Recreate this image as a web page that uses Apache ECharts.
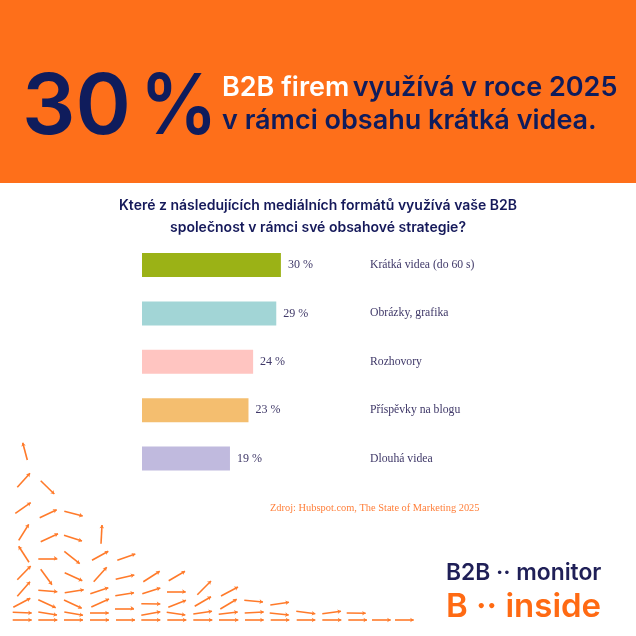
<!DOCTYPE html>
<html>
<head>
<meta charset="utf-8">
<style>
html, body { margin: 0; padding: 0; background: #fff; }
#main { width: 636px; height: 636px; }
</style>
<script src="https://cdn.jsdelivr.net/npm/echarts@6/dist/echarts.min.js"></script>
</head>
<body>
<div id="main"></div>
<script>
var categories = ['Krátká videa (do 60 s)', 'Obrázky, grafika', 'Rozhovory', 'Příspěvky na blogu', 'Dlouhá videa'];
var values = [30, 29, 24, 23, 19];
var barColors = ['#9bb216', '#a2d5d6', '#ffc5c1', '#f4be6f', '#c0bade'];
var question = 'Které z následujících mediálních formátů využívá vaše B2B\nspolečnost v rámci své obsahové strategie?';
var source = 'Zdroj: Hubspot.com, The State of Marketing 2025';

// decorative arrows: [x0, y0, x1, y1]
var arrows = [
    [27.3, 460, 22.7, 442.7], [17.3, 487.3, 30, 473.3], [40.7, 480.7, 54.3, 494], [15.3, 513.3, 30.7, 502.7],
    [39.7, 517.7, 56.7, 509.7], [64.3, 511.3, 82.7, 516], [18.7, 540.3, 28.7, 524.3], [40.7, 541.7, 58, 533.7],
    [64, 535.3, 82, 541], [101, 543.7, 102, 525], [29, 562.3, 18.7, 546.3], [38.3, 558.3, 57.3, 558.3],
    [64.3, 551.3, 79.7, 563.7], [92, 560.3, 108.3, 551.3], [117.3, 560.3, 135.3, 554], [17.3, 579.7, 30.7, 566],
    [40.7, 569.3, 52, 584.7], [64.7, 572.7, 82.3, 580.7], [93.7, 581.7, 106.7, 567.3], [115.7, 579.3, 134.3, 575],
    [143.3, 581.7, 159.7, 571.3], [168.7, 580.7, 185, 571.3], [17.3, 596.3, 30, 581.7], [38.3, 590.3, 57.3, 591.7],
    [64.7, 592.7, 83.7, 589.7], [90.3, 593.7, 108.3, 587.7], [115.3, 595.7, 134, 592.7], [142.3, 593.7, 160.3, 588],
    [167, 591.7, 185.7, 591.7], [197.3, 594.7, 211, 581], [13.3, 607.3, 30.3, 598.3], [38.3, 599.7, 55.7, 607.7],
    [64, 600, 81.7, 608.3], [91.3, 607, 109, 599], [115, 608.7, 134, 608.3], [141.3, 603.7, 160.3, 604],
    [168.3, 607.3, 186, 600.3], [194.7, 606.3, 211, 596.7], [12.7, 612.3, 31.7, 613], [38.3, 612, 57, 615],
    [64.3, 612, 83, 615.3], [90, 613, 108.7, 613], [141.3, 615.3, 160.3, 611.7], [166.7, 612.3, 185.3, 615],
    [193.3, 614, 212, 611.3], [12.7, 620, 31.7, 620], [38.3, 620, 57.3, 620], [64, 620, 83, 620],
    [90, 620, 109, 620], [116, 620, 135, 620], [141.3, 620, 160.3, 620], [167.3, 620, 186.3, 620],
    [193.3, 620, 212.3, 620], [221, 596, 238, 587], [220.3, 609, 236.7, 599.3], [218.7, 614.3, 237.7, 612],
    [219, 620, 238.3, 620], [244.3, 600.3, 263, 602], [244.7, 613, 263.7, 612], [245, 620, 263.7, 620],
    [270.3, 605, 289, 602.3], [269.7, 613, 288.7, 615], [270.7, 620, 289.3, 620], [296.3, 611.3, 315.3, 613.7],
    [296.7, 620, 315.3, 620], [322.3, 613.7, 341, 611.3], [322.3, 620, 341.3, 620], [346.7, 613, 365.7, 613.3],
    [348.3, 620, 367, 620], [372, 620, 390.7, 620], [395, 620, 413.7, 620]
];

var myChart = echarts.init(document.getElementById('main'));

var option = {
    animation: false,
    backgroundColor: '#fff',
    grid: [
        { left: 142, top: 240.8, width: 463, height: 242 },
        { left: 0, top: 0, width: 636, height: 636 }
    ],
    xAxis: [
        { gridIndex: 0, type: 'value', min: 0, max: 100, show: false },
        { gridIndex: 1, type: 'value', min: 0, max: 636, show: false }
    ],
    yAxis: [
        {
            gridIndex: 0,
            type: 'category',
            inverse: true,
            data: categories,
            position: 'left',
            offset: -228,
            axisLine: { show: false },
            axisTick: { show: false },
            axisLabel: {
                inside: true,
                margin: 0,
                fontFamily: 'Liberation Serif',
                fontSize: 11.7,
                color: '#3f3868'
            }
        },
        { gridIndex: 1, type: 'value', min: 0, max: 636, inverse: true, show: false }
    ],
    series: [
        {
            type: 'bar',
            xAxisIndex: 0,
            yAxisIndex: 0,
            barWidth: 24,
            data: values.map(function (v, i) {
                return { value: v, itemStyle: { color: barColors[i] } };
            }),
            label: {
                show: true,
                position: 'right',
                distance: 7,
                formatter: '{c} %',
                fontFamily: 'Liberation Serif',
                fontSize: 12,
                color: '#3f3868'
            }
        },
        {
            type: 'lines',
            coordinateSystem: 'cartesian2d',
            xAxisIndex: 1,
            yAxisIndex: 1,
            symbol: ['none', 'arrow'],
            symbolSize: 3.5,
            lineStyle: { color: '#ff7a2a', width: 1.6, opacity: 1, curveness: 0 },
            data: arrows.map(function (a) {
                return { coords: [[a[0], a[1]], [a[2], a[3]]] };
            })
        }
    ],
    graphic: [
        { type: 'rect', z: -1, shape: { x: 0, y: 0, width: 636, height: 183 }, style: { fill: '#fe6f1a' } },
        { type: 'text', x: 22, y: 109, style: { text: '30', fontFamily: 'Inter', fontWeight: 600, fontSize: 84, fill: '#0f1c5c', verticalAlign: 'middle' } },
        { type: 'text', x: 140, y: 109, scaleX: 0.92, style: { text: '%', fontFamily: 'Inter', fontWeight: 600, fontSize: 84, fill: '#0f1c5c', verticalAlign: 'middle' } },
        {
            type: 'text', x: 222, y: 88,
            style: {
                text: '{w|B2B firem} {n|využívá v roce 2025}',
                verticalAlign: 'middle',
                rich: {
                    w: { fontFamily: 'Inter', fontWeight: 600, fontSize: 27, fill: '#fff', color: '#fff' },
                    n: { fontFamily: 'Inter', fontWeight: 600, fontSize: 27, fill: '#0f1c5c', color: '#0f1c5c' }
                }
            }
        },
        { type: 'text', x: 222, y: 121, style: { text: 'v rámci obsahu krátká videa.', fontFamily: 'Inter', fontWeight: 600, fontSize: 27, fill: '#0f1c5c', verticalAlign: 'middle' } },
        { type: 'text', x: 318, y: 217, style: { text: question, fontFamily: 'Inter', fontWeight: 600, fontSize: 14, lineHeight: 22, fill: '#15195a', align: 'center', verticalAlign: 'middle' } },
        { type: 'text', x: 270, y: 508, style: { text: source, fontFamily: 'Liberation Serif', fontSize: 10.4, fill: '#ff7f3a', verticalAlign: 'middle' } },
        { type: 'text', x: 446, y: 573, style: { text: 'B2B ·· monitor', fontFamily: 'Inter', fontWeight: 600, fontSize: 22.8, fill: '#1f1f57', verticalAlign: 'middle' } },
        { type: 'text', x: 446, y: 607, style: { text: 'B ·· inside', fontFamily: 'Inter', fontWeight: 600, fontSize: 33, fill: '#ff6a13', verticalAlign: 'middle' } }
    ]
};

myChart.setOption(option);
</script>
</body>
</html>
